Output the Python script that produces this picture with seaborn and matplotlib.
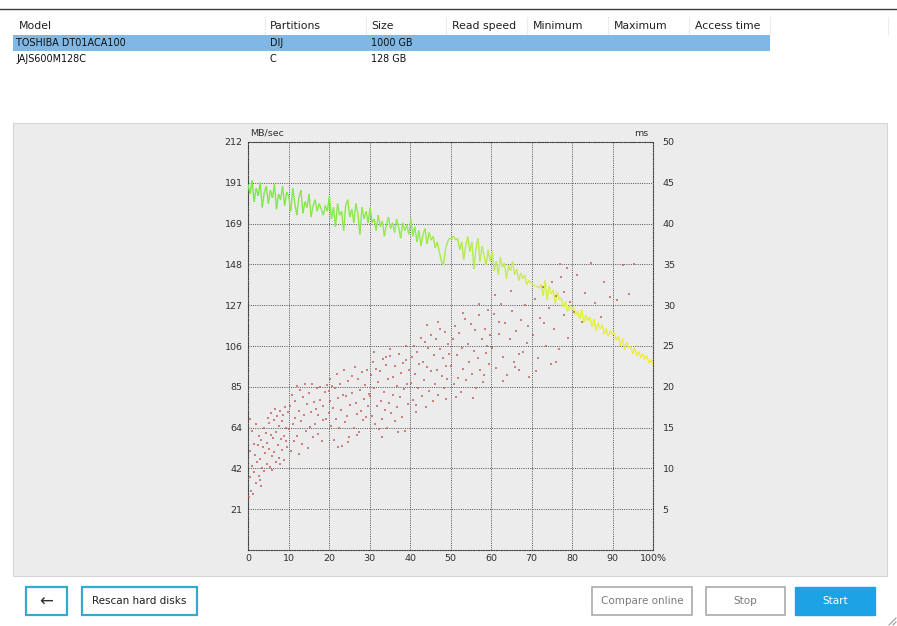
import numpy as np
import pandas as pd
import matplotlib
matplotlib.use("Agg")
import matplotlib.pyplot as plt
from matplotlib.patches import Rectangle
from matplotlib.collections import LineCollection
from matplotlib.colors import LinearSegmentedColormap
import seaborn as sns

# ---------------- data ----------------
table_columns = ["Model", "Partitions", "Size", "Read speed", "Minimum", "Maximum", "Access time"]
disk_models = ["TOSHIBA DT01ACA100", "JAJS600M128C"]
disk_partitions = ["DIJ", "C"]
disk_sizes = ["1000 GB", "128 GB"]

speed_ticks = [21, 42, 64, 85, 106, 127, 148, 169, 191, 212]
access_ticks = [5, 10, 15, 20, 25, 30, 35, 40, 45, 50]
pos_tick_labels = ["0", "10", "20", "30", "40", "50", "60", "70", "80", "90", "100%"]

# read speed (MB/sec), sampled evenly from 0 % to 100 %
read_speed = [
    190, 185, 192, 181, 188, 184, 191, 178, 186, 189, 180, 187, 183, 190, 177, 185, 182, 189, 179, 186,
    184, 176, 188, 180, 174, 183, 187, 175, 181, 178, 185, 173, 179, 182, 176, 180, 177, 174, 179, 176,
    184, 172, 178, 168, 180, 174, 176, 166, 179, 182, 173, 177, 170, 180, 175, 164, 178, 172, 176, 170,
    178, 170, 172, 166, 174, 168, 171, 163, 169, 173, 167, 170, 165, 172, 168, 162, 170, 166, 169, 164,
    172, 163, 168, 160, 166, 158, 164, 167, 159, 165, 161, 163, 157, 160, 155, 150, 148, 156, 160, 162,
    162, 163, 161, 162, 156, 160, 151, 158, 163, 155, 160, 146, 157, 162, 150, 158, 153, 148, 156, 150,
    155, 145, 150, 143, 152, 147, 149, 141, 148, 145, 150, 143, 146, 140, 144, 141, 143, 138, 140, 139,
    138, 137, 137, 136, 138, 132, 140, 130, 137, 133, 135, 128, 134, 130, 131, 126, 129, 124, 127, 125,
    126, 122, 124, 120, 125, 118, 122, 119, 121, 116, 120, 114, 118, 115, 117, 112, 115, 111, 114, 112,
    113, 109, 111, 106, 110, 104, 108, 105, 106, 102, 105, 101, 103, 100, 102, 99, 101, 97, 99, 96,
]

# access time samples: position (%) and time (ms)
access_pos = [
    0.2, 0.4, 0.5, 0.7, 0.9, 1.0, 1.2, 1.4, 1.5, 1.7, 1.9, 2.0, 2.2, 2.4, 2.6, 2.8, 3.0, 3.1, 3.3, 3.5, 3.7, 3.9, 4.0, 4.2, 4.4, 4.6, 4.7, 4.9, 0.6, 2.9,
    5.1, 5.3, 5.5, 5.6, 5.8, 6.0, 6.2, 6.3, 6.5, 6.7, 6.9, 7.0, 7.2, 7.4, 7.6, 7.7, 7.9, 8.1, 8.3, 8.4, 8.6, 8.8, 9.0, 9.1, 9.3, 9.5, 9.7, 9.8, 5.9, 8.0,
    10.1, 10.3, 10.6, 10.8, 11.0, 11.3, 11.5, 11.7, 12.0, 12.2, 12.5, 12.7, 12.9, 13.2, 13.4, 13.6, 13.9, 14.1, 14.4, 14.6,
    14.8, 15.1, 15.3, 15.5, 15.8, 16.0, 16.3, 16.5, 16.7, 17.0, 17.2, 17.4, 17.7, 17.9, 18.2, 18.4, 18.6, 18.9, 19.2, 19.6,
    20.0, 20.1, 20.2, 20.3, 20.5, 20.7, 21.0, 21.2, 21.5, 21.7, 22.0, 22.3, 22.5, 22.8, 23.0, 23.3, 23.5, 23.8, 24.0, 24.3,
    24.5, 24.8, 25.0, 25.3, 25.6, 25.8, 26.1, 26.3, 26.6, 26.8, 27.1, 27.3, 27.6, 27.8, 28.1, 28.3, 28.6, 28.8, 29.1, 29.4,
    29.6, 29.9, 22.1, 24.6, 27.0,
    30.1, 30.3, 30.5, 30.8, 31.0, 31.3, 31.5, 31.8, 32.0, 32.3, 32.6, 32.8, 33.1, 33.3, 33.6, 33.9, 34.1, 34.4, 34.6, 34.9,
    35.1, 35.4, 35.7, 35.9, 36.2, 36.4, 36.7, 36.9, 37.2, 37.5, 37.7, 38.0, 38.2, 38.5, 38.7, 39.0, 39.3, 39.5, 39.8, 31.1,
    33.0, 35.0, 37.0, 39.1, 34.0,
    40.2, 40.4, 40.7, 41.0, 41.2, 41.5, 41.8, 42.0, 42.3, 42.6, 42.9, 43.1, 43.4, 43.7, 44.0, 44.2, 44.5, 44.8, 45.1, 45.3,
    45.6, 45.9, 46.2, 46.4, 46.7, 47.0, 47.3, 47.5, 47.8, 48.1, 48.4, 48.6, 48.9, 49.2, 49.5, 49.7, 41.4, 44.3, 46.9, 49.0,
    50.2, 50.5, 50.8, 51.1, 51.5, 51.8, 52.1, 52.5, 52.8, 53.2, 53.5, 53.9, 54.2, 54.6, 55.0, 55.3, 55.7, 56.0, 56.4, 56.7,
    57.1, 57.4, 57.8, 58.1, 58.5, 58.8, 59.2, 59.5, 59.8, 51.3, 53.0, 55.5, 57.0, 58.3, 59.0,
    60.3, 60.8, 61.3, 61.9, 62.4, 62.9, 63.5, 64.0, 64.6, 65.1, 65.7, 66.2, 66.8, 67.3, 67.9, 68.4, 69.0, 69.5, 61.0, 63.0,
    65.0, 67.0, 69.2, 62.0, 66.0,
    70.3, 70.9, 71.6, 72.2, 72.9, 73.5, 74.2, 74.8, 75.5, 76.1, 76.8, 77.4, 78.1, 78.7, 79.4, 71.0, 73.0, 75.0, 77.0, 79.0,
    76.0, 78.0,
    80.4, 81.2, 82.5, 83.3, 84.6, 85.8, 87.1, 88.0, 89.4, 91.0, 92.6, 94.1, 95.3,
]
access_ms = [
    6.5, 8.9, 12.1, 7.2, 14.6, 10.3, 6.9, 13.0, 9.5, 11.7, 8.2, 15.4, 10.8, 12.9, 9.1, 14.0, 11.2, 7.8, 13.5, 10.1, 12.6, 15.0, 9.7, 11.9, 14.3, 10.6, 13.1, 16.2, 16.0, 8.6,
    12.4, 15.6, 10.2, 14.1, 16.8, 11.5, 13.7, 15.9, 12.0, 17.3, 10.8, 14.5, 16.4, 12.9, 15.2, 11.3, 17.0, 13.6, 15.8, 12.2, 16.6, 14.0, 11.0, 17.5, 13.3, 15.0, 12.6, 16.9, 9.8, 10.5,
    14.8, 17.6, 12.1, 19.0, 15.5, 13.4, 18.3, 16.2, 20.1, 14.0, 17.0, 11.8, 19.6, 15.8, 13.0, 18.8, 16.6, 20.4, 14.6, 17.9,
    12.5, 19.2, 15.1, 16.9, 20.3, 13.8, 18.1, 15.4, 17.3, 19.8, 14.2, 16.5, 20.0, 18.4, 13.3, 17.7, 15.9, 19.4, 16.1, 20.2,
    16.8, 19.5, 18.2, 21.0, 15.2, 20.1, 17.4, 13.5, 19.9, 16.0, 21.6, 18.6, 14.9, 20.4, 17.2, 12.8, 19.0, 22.1, 15.7, 18.9,
    16.4, 20.7, 13.9, 17.8, 21.3, 19.3, 15.0, 22.4, 18.0, 16.7, 20.9, 14.4, 19.6, 17.0, 21.8, 15.9, 18.5, 20.2, 16.3, 22.0,
    17.6, 19.1, 12.6, 13.2, 14.1,
    18.9, 21.5, 16.4, 23.0, 19.8, 15.5, 22.2, 17.7, 20.6, 14.8, 21.9, 18.3, 16.1, 23.4, 19.4, 17.2, 22.7, 15.0, 20.9, 18.0,
    23.8, 16.8, 21.2, 19.0, 15.8, 22.5, 20.1, 17.5, 24.0, 18.7, 21.7, 16.3, 22.9, 19.7, 14.6, 23.3, 20.4, 17.9, 22.0, 24.3,
    13.9, 24.6, 14.4, 25.0, 23.6,
    20.5, 23.7, 18.4, 25.0, 21.6, 17.8, 24.3, 19.9, 22.8, 26.0, 18.9, 23.1, 20.8, 25.5, 17.5, 22.4, 24.8, 19.5, 21.9, 26.3,
    18.2, 23.9, 20.3, 25.8, 22.0, 19.0, 24.6, 27.1, 21.3, 23.5, 19.8, 26.7, 22.6, 20.9, 25.2, 24.0, 16.9, 27.6, 28.0, 18.5,
    22.6, 25.8, 20.3, 27.4, 23.9, 21.1, 26.6, 19.4, 24.7, 22.2, 28.3, 20.8, 25.3, 23.0, 27.7, 21.6, 24.4, 26.9, 19.9, 23.5,
    28.8, 22.0, 25.9, 20.6, 27.1, 24.2, 29.4, 22.8, 26.4, 18.8, 29.0, 18.6, 30.2, 21.4, 25.0,
    24.8, 28.9, 22.3, 26.5, 30.1, 23.6, 27.8, 21.5, 25.9, 29.3, 23.1, 26.8, 22.0, 28.2, 24.3, 30.0, 25.4, 21.2, 31.3, 20.7,
    31.8, 24.0, 27.5, 28.0, 22.4,
    26.3, 30.7, 23.5, 28.4, 32.2, 25.0, 29.6, 22.8, 27.1, 31.1, 24.6, 33.4, 28.8, 34.5, 30.4, 21.9, 27.8, 32.8, 35.0, 26.0,
    23.0, 31.6,
    29.2, 33.7, 27.9, 31.5, 35.2, 30.3, 28.6, 32.9, 31.0, 30.6, 34.9, 31.4, 35.1,
]

# ---------------- figure ----------------
W, H = 897, 626
fig = plt.figure(figsize=(W / 100, H / 100), dpi=100)
fig.patch.set_facecolor("white")
plt.rcParams["font.family"] = ["DejaVu Sans"]

bg = fig.add_axes([0, 0, 1, 1])
bg.set_xlim(0, W)
bg.set_ylim(H, 0)
bg.axis("off")

# top rule
bg.plot([0, W], [8.5, 8.5], color="#3c3c3c", lw=1.0)

# table header
col_x = [19, 270, 371, 452, 533, 614, 695]
for cx, name in zip(col_x, table_columns):
    bg.text(cx, 26, name, fontsize=7.8, color="#202020", va="center", ha="left")
for sx in [265, 366, 446, 527, 608, 689, 770, 888]:
    bg.plot([sx, sx], [17, 34], color="#ececec", lw=0.8)

# rows
bg.add_patch(Rectangle((13, 35), 757, 16, facecolor="#7fb8e6", edgecolor="none"))
for i, (m, p, s) in enumerate(zip(disk_models, disk_partitions, disk_sizes)):
    yy = 43 + i * 16.5
    bg.text(16, yy, m, fontsize=6.9, color="#101010", va="center")
    bg.text(270, yy, p, fontsize=6.9, color="#101010", va="center")
    bg.text(371, yy, s, fontsize=6.9, color="#101010", va="center")

# chart panel
bg.add_patch(Rectangle((13, 123), 874, 453, facecolor="#ececec", edgecolor="#d6d6d6", lw=0.8))

# buttons
def button(x0, x1, label, edge, face, tcolor, fs=7.5, lw=1.6):
    bg.add_patch(Rectangle((x0, 587), x1 - x0, 28, facecolor=face, edgecolor=edge, lw=lw))
    bg.text((x0 + x1) / 2, 601.5, label, fontsize=fs, color=tcolor, ha="center", va="center")

button(26, 67, "\u2190", "#36a8d4", "white", "#303030", fs=12)
button(82, 197, "Rescan hard disks", "#36a8d4", "white", "#202020")
button(592, 692, "Compare online", "#aaaaaa", "white", "#7a7a7a", lw=1.2)
button(706, 785, "Stop", "#aaaaaa", "white", "#7a7a7a", lw=1.2)
button(795, 875, "Start", "#1ba3e6", "#1ba3e6", "white", lw=1.0)

# resize grip
for d in [4, 8]:
    bg.plot([W - d, W - 1], [H - 1, H - d], color="#9a9a9a", lw=0.8)

# ---------------- chart axes ----------------
L, R, T, B = 248, 653, 142, 550
ax = fig.add_axes([L / W, (H - B) / H, (R - L) / W, (B - T) / H])
ax.set_facecolor("none")
ax.set_xlim(0, 100)
ax.set_ylim(0, 212)

speed_tick_pos = [212 * (k + 1) / 10 for k in range(10)]
ax.set_yticks(speed_tick_pos)
ax.set_yticklabels([str(v) for v in speed_ticks])
ax.set_xticks(list(range(0, 101, 10)))
ax.set_xticklabels(pos_tick_labels)
ax.tick_params(axis="both", length=0, labelsize=6.8, labelcolor="#303030")
ax.tick_params(axis="y", pad=4)
ax.tick_params(axis="x", pad=3)
ax.grid(True, color="#505050", linestyle=(0, (1, 1.3)), lw=0.7)
ax.set_axisbelow(True)
for sp in ax.spines.values():
    sp.set_linestyle((0, (1, 1.3)))
    sp.set_color("#404040")
    sp.set_linewidth(0.8)

# read speed line with green -> yellow gradient
pos = np.linspace(0, 100, len(read_speed))
pts = np.column_stack([pos, read_speed])
segs = np.stack([pts[:-1], pts[1:]], axis=1)
cmap = LinearSegmentedColormap.from_list(
    "gy", [(0.0, "#7ae842"), (0.4, "#92ea4c"), (0.6, "#bcec4c"), (0.8, "#e0f044"), (1.0, "#f0ee30")]
)
lc = LineCollection(segs, colors=cmap((pos[:-1] + pos[1:]) / 200), linewidths=1.0, zorder=3)
ax.add_collection(lc)

# access time scatter on the right axis
ax2 = ax.twinx()
ax2.set_ylim(0, 50)
ax2.set_yticks(access_ticks)
ax2.set_yticklabels([str(v) for v in access_ticks])
ax2.tick_params(axis="y", length=0, labelsize=6.8, labelcolor="#303030", pad=7)
for sp in ax2.spines.values():
    sp.set_visible(False)
df = pd.DataFrame({"pos": access_pos, "ms": access_ms})
sns.scatterplot(data=df, x="pos", y="ms", ax=ax2, s=1.3, color="#c85a5a",
                linewidth=0, alpha=0.75, marker="s", legend=False)
ax2.set_xlabel("")
ax2.set_ylabel("")
ax2.set_xlim(0, 100)

bg.text(250, 133, "MB/sec", fontsize=6.8, color="#303030", ha="left", va="center")
bg.text(648, 133, "ms", fontsize=6.8, color="#303030", ha="right", va="center")

fig.savefig("out.png", dpi=100, facecolor="white")
